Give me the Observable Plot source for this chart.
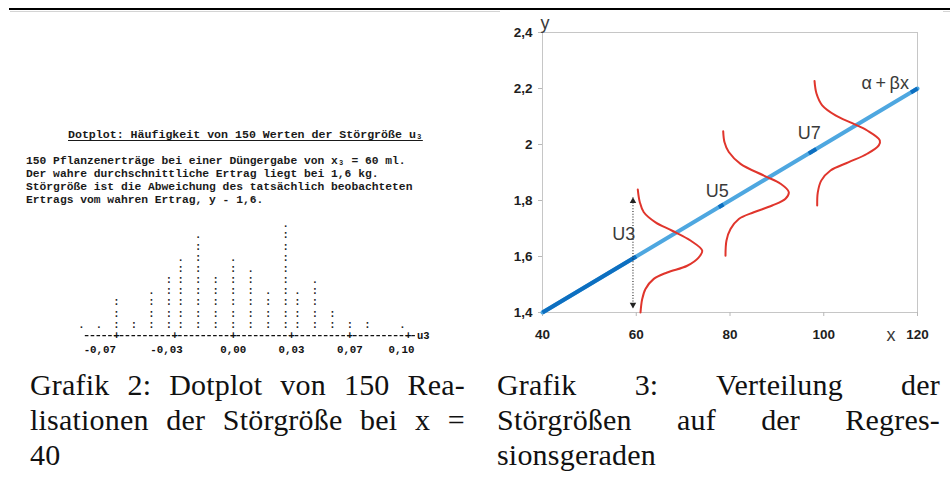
<!DOCTYPE html>
<html>
<head>
<meta charset="utf-8">
<script src="https://cdn.jsdelivr.net/npm/d3@7"></script>
<script src="https://cdn.jsdelivr.net/npm/@observablehq/plot@0.6"></script>
<style>
  html, body { margin: 0; padding: 0; background: #fff; }
  body { width: 950px; height: 479px; position: relative; overflow: hidden; }
  .abs { position: absolute; }
  .mono { font-family: "Liberation Mono", "DejaVu Sans Mono", monospace; color: #1a1a1a; font-weight: bold; white-space: pre; }
  .cap { position: absolute; font-family: "Liberation Serif", "DejaVu Serif", serif; font-size: 30px; line-height: 35px; color: #111; letter-spacing: 0.2px; }
  .cap .j { text-align: justify; text-align-last: justify; }
  #chart3 g[aria-label="y-axis tick label"] text, #chart3 g[aria-label="x-axis tick label"] text { font-weight: bold; }
</style>
</head>
<body>
<div class="abs" style="left:9px;top:8px;width:941px;height:1.6px;background:#000"></div>
<div class="abs" style="left:10px;top:10.5px;width:490px;height:1px;background:#d4d4d4"></div>
<div class="abs" style="left:943px;top:10.5px;width:7px;height:1px;background:#d4d4d4"></div>

<div class="abs mono" style="left:68px;top:128px;font-size:11.6px;text-decoration:underline;text-underline-offset:2px">Dotplot: Häufigkeit von 150 Werten der Störgröße u₃</div>
<div class="abs mono" style="left:26px;top:155px;font-size:11.3px;line-height:12.9px">150 Pflanzenerträge bei einer Düngergabe von x₃ = 60 ml.
Der wahre durchschnittliche Ertrag liegt bei 1,6 kg.
Störgröße ist die Abweichung des tatsächlich beobachteten
Ertrags vom wahren Ertrag, y - 1,6.</div>

<div id="dotplot" class="abs" style="left:0px;top:215px"></div>
<div id="chart3" class="abs" style="left:490px;top:0px"></div>

<div class="cap" style="left:30px;top:367px;width:435px">
  <div class="j">Grafik 2: Dotplot von 150 Rea-</div>
  <div class="j">lisationen der Störgröße bei x =</div>
  <div>40</div>
</div>
<div class="cap" style="left:497px;top:367px;width:443px">
  <div class="j">Grafik 3: Verteilung der</div>
  <div class="j">Störgrößen auf der Regres-</div>
  <div>sionsgeraden</div>
</div>

<script>
// ---------- Dotplot data (Grafik 2) ----------
const u3Values = [-0.091, -0.0805, -0.07, -0.0595, -0.049, -0.0385, -0.0315, -0.021, -0.0105, 0, 0.0105, 0.021, 0.0315, 0.0385, 0.049, 0.0595, 0.07, 0.0805, 0.1015];
const u3Counts = [1, 1, 6, 2, 7, 10, 13, 17, 10, 13, 11, 7, 19, 7, 9, 4, 2, 2, 1];
const dotAxisTicks = [-0.07, -0.035, 0, 0.035, 0.07, 0.105];
const dotAxisLabels = ["-0,07", "-0,03", "0,00", "0,03", "0,07", "0,10"];
const dotAxisLabelPos = [-0.080, -0.040, 0.000, 0.035, 0.070, 0.101];
const dotAxisExtent = [-0.0893, 0.1103];
const dotAxisName = "u3";

// ---------- Regression chart data (Grafik 3) ----------
const xTicks = [40, 60, 80, 100, 120];
const yTicks = [1.4, 1.6, 1.8, 2.0, 2.2, 2.4];
const yTickLabels = ["1,4", "1,6", "1,8", "2", "2,2", "2,4"];
const regX = [40, 120];
const regY = [1.4, 2.2];
const darkX1 = [40, 77.6, 96.8, 118.6];
const darkY1 = [1.4, 1.776, 1.968, 2.186];
const darkX2 = [60, 78.6, 98.4, 120];
const darkY2 = [1.6, 1.786, 1.984, 2.2];
const curveU3 = [[60.33,1.839],[60.76,1.794],[61.61,1.758],[64.11,1.722],[67.67,1.692],[71.57,1.657],[74.07,1.621],[73.35,1.597],[70.87,1.567],[66.60,1.543],[63.74,1.520],[61.97,1.484],[61.27,1.448],[60.91,1.400]];
const curveU5 = [[78.55,2.047],[78.83,2.008],[79.74,1.973],[82.24,1.931],[87.21,1.889],[90.77,1.860],[92.54,1.830],[91.84,1.806],[89.00,1.782],[85.08,1.758],[81.88,1.734],[80.11,1.698],[79.25,1.657],[79.04,1.603]];
const curveU7 = [[98.03,2.227],[98.45,2.182],[99.67,2.140],[102.51,2.104],[106.07,2.076],[109.27,2.050],[111.96,2.015],[111.74,1.997],[109.27,1.967],[105.34,1.937],[101.44,1.907],[99.46,1.871],[98.73,1.829],[98.60,1.782]];
const arrowX = [59.3];
const arrowYBottom = [1.428];
const arrowYTop = [1.798];
const annoText = ["U3", "U5", "U7", "α\u2009+\u2009βx"];
const annoX = [57.35, 77.3, 96.9, 113.1];
const annoY = [1.681, 1.832, 2.042, 2.218];

// ---------- Build dotplot ----------
const glyphs = [];
u3Values.forEach((v, i) => {
  const n = u3Counts[i];
  for (let r = 1; r <= Math.ceil(n / 2); r++) {
    glyphs.push({u: v, row: r, g: (r * 2 <= n) ? ":" : "."});
  }
});
const monoFont = "Liberation Mono, DejaVu Sans Mono, monospace";
const dot = Plot.plot({
  width: 480, height: 150,
  x: {domain: [-0.07, 0.105], range: [116, 407.7]},
  y: {domain: [1, 10], range: [112.3, 11.8]},
  axis: null,
  style: {background: "transparent", fontFamily: monoFont},
  marks: [
    Plot.text(glyphs, {x: "u", y: "row", text: "g", lineAnchor: "bottom", fontSize: 10.5, fill: "#222", fontWeight: "bold"}),
    Plot.ruleY([0], {x1: dotAxisExtent[0], x2: dotAxisExtent[1], dy: -3.4, stroke: "#111", strokeWidth: 1.2, strokeDasharray: "3.6,2.23", strokeDashoffset: -1.0}),
    Plot.text(dotAxisTicks, {x: d => d, y: 0, text: () => "+", lineAnchor: "bottom", fontSize: 11, fill: "#111", fontWeight: "bold"}),
    Plot.text([dotAxisName], {x: dotAxisExtent[1], y: 0, text: d => d, textAnchor: "start", lineAnchor: "bottom", fontSize: 10.5, fill: "#111", fontWeight: "bold"}),
    Plot.text(dotAxisLabels, {x: (d, i) => dotAxisLabelPos[i], y: -1, text: d => d, lineAnchor: "bottom", dy: 2.5, fontSize: 10.8, fill: "#111", fontWeight: "bold"})
  ]
});
document.getElementById("dotplot").appendChild(dot);

// ---------- Build regression chart ----------
const curves = [
  ...curveU3.map(([x, y]) => ({x, y, k: "U3"})),
  ...curveU5.map(([x, y]) => ({x, y, k: "U5"})),
  ...curveU7.map(([x, y]) => ({x, y, k: "U7"}))
];
const reg = regX.map((x, i) => ({x, y: regY[i]}));
const dark = darkX1.map((x, i) => ({x1: x, y1: darkY1[i], x2: darkX2[i], y2: darkY2[i]}));
const anno = annoText.map((t, i) => ({t, x: annoX[i], y: annoY[i]}));
const heads = [
  {x: arrowX[0], y: arrowYTop[0], rot: 0},
  {x: arrowX[0], y: arrowYBottom[0], rot: 180}
];
const sansFont = "Liberation Sans, Arial, sans-serif";
const chart = Plot.plot({
  width: 460, height: 355,
  marginLeft: 52, marginRight: 33, marginTop: 32, marginBottom: 43,
  x: {domain: [40, 120]},
  y: {domain: [1.4, 2.4]},
  style: {background: "transparent", fontFamily: sansFont},
  marks: [
    Plot.frame({stroke: "#c6c6c6"}),
    Plot.axisY({ticks: yTicks, tickFormat: (d) => yTickLabels[yTicks.indexOf(d)], tickSize: 4, tickPadding: 6, stroke: "#b8b8b8", fill: "#1e1e1e", fontSize: 13.5, fontWeight: "bold", label: null}),
    Plot.axisX({ticks: xTicks, tickSize: 4, tickPadding: 13, stroke: "#b8b8b8", fill: "#1e1e1e", fontSize: 13.5, fontWeight: "bold", label: null}),
    Plot.line(reg, {x: "x", y: "y", stroke: "#4ea7e0", strokeWidth: 4}),
    Plot.link(dark, {x1: "x1", y1: "y1", x2: "x2", y2: "y2", stroke: "#0d6fc0", strokeWidth: 4}),
    Plot.ruleX(arrowX, {x: d => d, y1: arrowYBottom[0], y2: arrowYTop[0], stroke: "#222", strokeWidth: 1.1, strokeDasharray: "1,1.8", insetTop: 3, insetBottom: 3}),
    Plot.dot(heads, {x: "x", y: "y", symbol: "triangle", r: 2.4, fill: "#222", stroke: "none", rotate: "rot"}),
    Plot.line(curves, {x: "x", y: "y", z: "k", stroke: "#e0352c", strokeWidth: 2, curve: "catmull-rom"}),
    Plot.text(anno, {x: "x", y: "y", text: "t", fontSize: 18, fill: "#3a3a3a"}),
    Plot.text(["y"], {frameAnchor: "top-left", dx: -2, dy: -16, fontSize: 18, fill: "#3a3a3a"}),
    Plot.text(["x"], {frameAnchor: "bottom-right", dx: -22, dy: 28, fontSize: 18, fill: "#3a3a3a"})
  ]
});
document.getElementById("chart3").appendChild(chart);
</script>
</body>
</html>
